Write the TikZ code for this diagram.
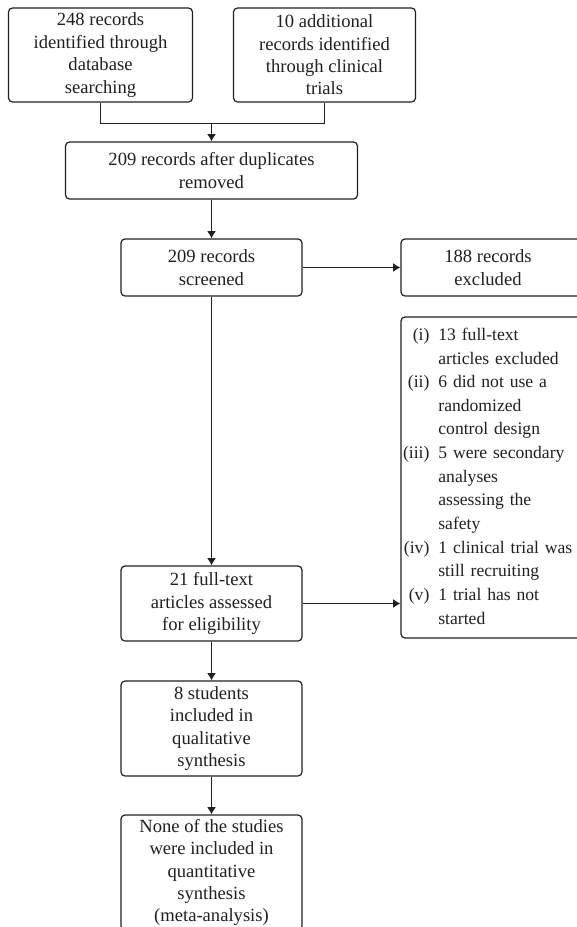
\documentclass[tikz,border=0pt]{standalone}
\usepackage{fontspec}
\setmainfont{Liberation Serif}
\usetikzlibrary{arrows.meta}
\definecolor{ink}{RGB}{35,31,32}
\begin{document}
\begin{tikzpicture}[x=0.5pt,y=-0.5pt,
  box/.style={draw=ink, line width=0.6pt, rounded corners=2pt, inner sep=0pt,
    align=center, text=ink, font=\fontsize{9.3pt}{11.2pt}\selectfont},
  link/.style={draw=ink, line width=0.6pt},
  arr/.style={link, -{Latex[length=3.6pt,width=4.4pt]}}]
\useasboundingbox (0,0) rectangle (577,927);
\fill[white] (0,0) rectangle (577,927);
\clip (0,0) rectangle (577,927);

\node[box, minimum width=92pt, minimum height=47pt] (b1) at (100.5,55)
  {248 records\\identified through\\database\\searching};
\node[box, minimum width=91pt, minimum height=47pt] (b2) at (324.5,55)
  {10 additional\\records identified\\through clinical\\trials};
\node[box, minimum width=146pt, minimum height=28.5pt] (b3) at (211.5,170.5)
  {209 records after duplicates\\removed};
\node[box, minimum width=90.5pt, minimum height=28.5pt] (b4) at (211.5,267.5)
  {209 records\\screened};
\node[box, minimum width=92pt, minimum height=28.5pt] (b5) at (493,267.5)
  {\hspace*{-5pt}188 records\\\hspace*{-5pt}excluded};
\node[box, minimum width=94.5pt, minimum height=160.5pt, inner xsep=1pt,
  text width=92.5pt, align=left, font=\fontsize{8.8pt}{11.2pt}\selectfont] (b6) at (495.5,477.5)
  {\renewcommand{\arraystretch}{1.055}%
  \begin{tabular}{@{}r@{\hspace{4.5pt}}l@{}}
  (i) & 13 full-text\\
      & articles excluded\\
  (ii) & 6 did not use a\\
      & randomized\\
      & control design\\
  (iii) & 5 were secondary\\
      & analyses\\
      & assessing the\\
      & safety\\
  (iv) & 1 clinical trial was\\
      & still recruiting\\
  (v) & 1 trial has not\\
      & started
  \end{tabular}};
\node[box, minimum width=90.5pt, minimum height=37.5pt] (b7) at (211.5,603.5)
  {21 full-text\\articles assessed\\for eligibility};
\node[box, minimum width=90.5pt, minimum height=47.5pt] (b8) at (211.5,728.5)
  {8 students\\included in\\qualitative\\synthesis};
\node[box, minimum width=90.5pt, minimum height=57.5pt] (b9) at (211.5,872.5)
  {None of the studies\\were included in\\quantitative\\synthesis\\(meta-analysis)};

\coordinate (j) at (211.5,123.5);
\draw[link] (b1.south) |- (j) -| (b2.south);
\draw[arr] (j) -- (b3.north);
\draw[arr] (b3.south) -- (b4.north);
\draw[arr] (b4.east) -- (b4.east -| b5.west);
\draw[arr] (b4.south) -- (b7.north);
\draw[arr] (b7.east) -- (b7.east -| b6.west);
\draw[arr] (b7.south) -- (b8.north);
\draw[arr] (b8.south) -- (b9.north);
\end{tikzpicture}
\end{document}
